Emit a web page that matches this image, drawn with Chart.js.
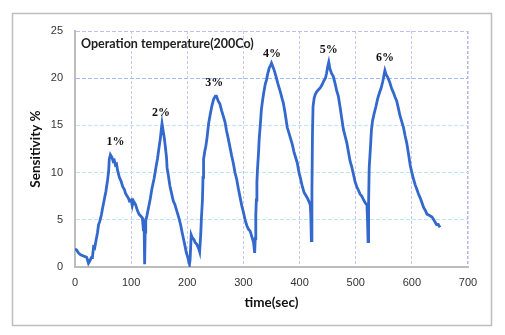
<!DOCTYPE html>
<html>
<head>
<meta charset="utf-8">
<script src="https://cdn.jsdelivr.net/npm/chart.js@4/dist/chart.umd.min.js"></script>
<style>
  html, body { margin: 0; padding: 0; background: #fff; }
  #wrap { width: 505px; height: 335px; }
</style>
</head>
<body>
<div id="wrap"><canvas id="sens"></canvas></div>
<script>
// time (sec) and sensitivity (%)
const timeSec = [0,3,6,10,14,18,21,24,26,29,31,33,35,38,40,42,44,47,49,52,55,58,60,61,63,66,68,70,72,74,76,79,82,85,88,90,93,95,97,100,102,104,106,108,111,114,117,120,121,122,123,124,125,126,128,131,134,137,141,144,147,150,152,154,155,157,159,161,163,164,166,169,172,175,178,181,185,188,191,195,198,201,204,205,207,209,212,214,217,220,222,224,225,227,228,229,231,233,235,238,241,244,247,250,252,255,258,261,264,267,270,273,276,279,282,285,288,291,294,297,300,303,306,309,312,314,316,318,320,321,322,323,324,325,327,328,330,332,334,336,339,341,343,346,348,350,352,355,358,361,364,366,369,371,374,376,378,381,384,387,390,393,396,399,402,405,408,411,414,417,419,420,421,422,423,424,426,428,431,434,437,440,443,446,448,450,452,454,457,460,463,466,469,472,475,478,481,484,487,490,493,496,499,502,505,508,511,514,517,520,521,522,523,524,526,528,530,533,536,539,542,545,548,550,552,554,557,559,561,564,567,570,573,576,579,582,585,588,591,594,597,600,603,606,609,612,615,618,621,624,627,630,633,636,638,641,644,647,650];
const sensitivity = [1.9,1.8,1.5,1.3,1.2,1.1,1.0,0.4,0.6,1.0,1.0,2.1,2.0,3.0,3.6,4.5,4.8,5.5,6.2,7.1,8.0,9.2,10.2,11.4,11.9,11.6,11.2,11.3,10.8,10.9,10.2,9.5,9.1,8.5,8.2,7.8,7.5,7.3,7.0,7.1,6.5,7.0,6.8,6.6,6.0,5.6,5.4,5.2,4.5,3.8,5.0,0.3,3.7,4.9,5.4,6.3,7.2,8.3,9.4,10.5,11.5,12.8,13.6,14.7,15.2,14.4,13.7,12.7,11.6,10.5,9.8,8.6,7.8,7.0,6.6,6.0,5.2,4.5,3.6,2.5,1.6,1.0,0.3,0.8,3.4,3.1,2.9,2.6,2.4,2.0,1.6,3.5,5.0,7.1,9.5,11.4,12.2,12.8,13.6,15.2,16.2,17.1,17.8,18.1,18.1,17.6,17.3,16.6,16.0,15.4,14.4,13.6,12.7,11.8,11.0,10.0,9.3,8.3,7.4,6.5,5.8,5.0,4.4,4.0,3.8,3.4,3.0,2.6,1.5,3.0,5.5,7.1,9.0,10.3,12.2,13.5,15.0,16.7,17.6,18.4,19.4,19.8,20.4,21.1,21.3,21.6,21.3,20.8,20.2,19.5,18.9,18.5,17.8,17.4,16.4,15.6,14.8,14.2,13.6,13.0,12.2,11.6,11.0,10.0,9.3,8.5,7.9,7.6,7.3,6.9,6.6,5.5,2.8,8.0,14.2,17.0,17.9,18.3,18.6,18.8,19.0,19.3,19.7,20.0,20.5,21.2,21.7,21.0,20.5,20.2,19.5,18.7,18.1,17.0,15.8,14.6,13.9,13.2,12.2,11.2,10.6,9.8,9.0,8.5,8.1,7.7,7.5,7.1,6.8,6.6,5.0,2.7,7.0,10.5,12.4,14.5,15.5,16.3,17.0,17.8,18.4,18.9,19.6,20.2,20.8,20.4,20.1,19.8,19.5,18.9,18.5,18.0,17.6,16.8,16.0,15.4,14.8,13.9,13.1,12.0,10.8,10.0,9.3,8.7,8.2,7.7,7.3,6.8,6.3,6.0,5.6,5.5,5.4,5.3,5.1,4.8,4.5,4.5,4.2];

// gas concentration notes above each peak
const gasLabels = ['1%','2%','3%','4%','5%','6%'];
const gasLabelTime = [72,153,248,351,452,552];
const gasLabelValue = [13.2,16.3,19.5,22.6,23.0,22.1];

const xTicks = [0,100,200,300,400,500,600,700];
const yTicks = [0,5,10,15,20,25];

// outer grey frame like the spreadsheet chart box
const framePlugin = {
  id: 'frame',
  beforeDraw(chart) {
    const ctx = chart.ctx;
    ctx.save();
    ctx.fillStyle = '#fff';
    ctx.fillRect(0, 0, chart.width, chart.height);
    ctx.strokeStyle = '#bdbdbd';
    ctx.lineWidth = 1.5;
    ctx.strokeRect(12.5, 13.5, 479, 312);
    ctx.restore();
  }
};

// peak labels + the operating temperature note
const notesPlugin = {
  id: 'notes',
  afterDatasetsDraw(chart) {
    const {ctx, scales: {x, y}, chartArea} = chart;
    ctx.save();
    ctx.fillStyle = '#111';
    ctx.textAlign = 'center';
    ctx.textBaseline = 'middle';
    ctx.font = 'bold 12px "Liberation Serif"';
    gasLabels.forEach((t, i) => {
      ctx.fillText(t, x.getPixelForValue(gasLabelTime[i]), y.getPixelForValue(gasLabelValue[i]));
    });
    ctx.textAlign = 'left';
    ctx.font = 'bold 12.5px Lato';
    ctx.fillStyle = '#222';
    ctx.fillText('Operation temperature(200Co)', chartArea.left + 6, chartArea.top + 13);
    ctx.restore();
  }
};

const ctx = document.getElementById('sens');

new Chart(ctx, {
  type: 'line',
  data: {
    datasets: [{
      label: 'Sensitivity',
      data: timeSec.map((t, i) => ({x: t, y: sensitivity[i]})),
      borderColor: '#3368cc',
      borderWidth: 2.8,
      pointRadius: 0,
      tension: 0,
      fill: false
    }]
  },
  options: {
    responsive: true,
    maintainAspectRatio: false,
    animation: false,
    layout: { padding: { left: 25, right: 37, top: 31, bottom: 22 } },
    plugins: {
      legend: { display: false },
      tooltip: { enabled: false }
    },
    scales: {
      x: {
        type: 'linear',
        min: 0,
        max: 700,
        afterBuildTicks: (s) => { s.ticks = xTicks.map(v => ({value: v})); },
        afterFit: (s) => { s.height = 46; },
        ticks: { padding: 9, color: '#333', font: { family: 'Liberation Sans', size: 11 } },
        grid: {
          drawTicks: false,
          color: (c) => c.tick && c.tick.value === 700 ? '#b4b4ee' : '#c6c6f3',
          lineWidth: (c) => c.tick && c.tick.value === 700 ? 1.5 : 1
        },
        border: { color: '#bdbdbd', width: 2, dash: [3, 2] },
        title: {
          display: true,
          text: 'time(sec)',
          color: '#111',
          font: { family: 'Lato', size: 13.5, weight: 'bold' },
          padding: { top: 2, bottom: 2 }
        }
      },
      y: {
        min: 0,
        max: 25,
        afterBuildTicks: (s) => { s.ticks = yTicks.map(v => ({value: v})); },
        afterFit: (s) => { s.width = 50; },
        ticks: { padding: 12, color: '#333', font: { family: 'Liberation Sans', size: 11 } },
        grid: {
          drawTicks: false,
          color: (c) => {
            if (!c.tick) return '#ccc';
            if (c.tick.value === 25) return '#c0c0f0';
            if (c.tick.value === 20) return '#9dbff2';
            return '#bfe6f6';
          }
        },
        border: { color: '#bdbdbd', width: 2, dash: [4, 2] },
        title: {
          display: true,
          text: 'Sensitivity %',
          color: '#111',
          font: { family: 'Lato', size: 13.5, weight: 'bold' },
          padding: { top: 3, bottom: 3 }
        }
      }
    }
  },
  plugins: [framePlugin, notesPlugin]
});
</script>
</body>
</html>
